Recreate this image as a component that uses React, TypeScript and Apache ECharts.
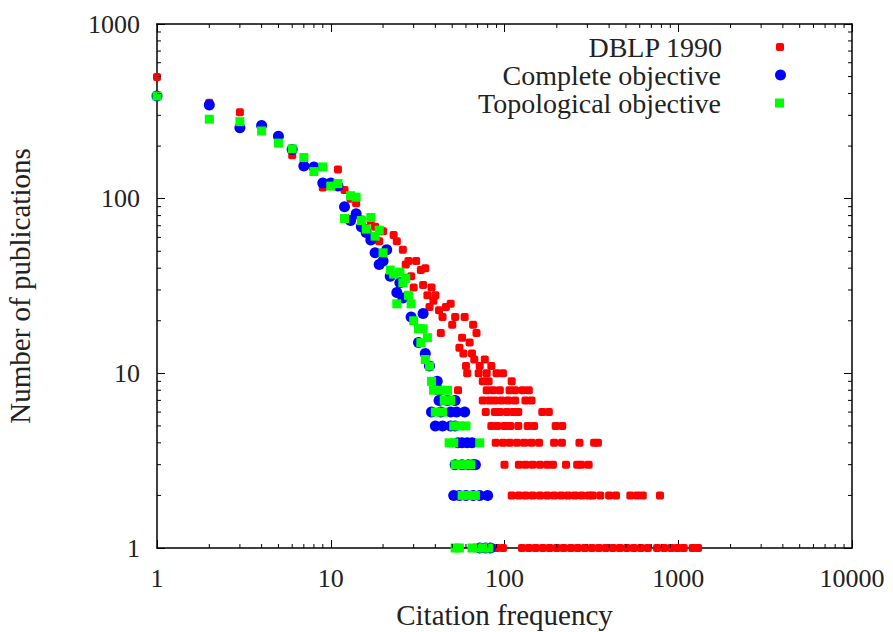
import { useEffect, useRef } from "react";
import * as echarts from "echarts";

// ---- data (citation frequency, number of publications) ----
const dblpTop: [number, number][] = [
  [1, 498], [2, 354], [3, 312], [4, 260], [5, 225], [6, 177], [7, 158], [8, 150], [9, 116], [10, 118],
  [11, 147], [12, 112], [13, 100], [14, 94], [15, 76], [16, 68], [17, 75], [18, 69], [19, 57], [20, 65],
  [23, 62], [24, 57], [26, 51], [27, 42], [28, 44], [29, 36], [30, 31], [31, 44], [33, 39], [34, 32],
  [35, 40], [36, 28], [37, 24], [38, 31], [39, 26], [40, 28], [42, 23], [43, 17], [44, 21], [46, 24],
  [49, 25], [50, 19], [52, 21], [55, 14], [57, 16], [58, 13], [59, 21], [60, 11], [63, 15], [65, 13],
  [66, 19], [67, 12], [69, 17], [72, 11], [77, 12], [84, 11],
];
const dblpMid: [number, number][] = [
  [61, 10], [71, 10], [79, 10], [90, 10], [98, 10],
  [75, 9], [81, 9], [110, 9],
  [54, 8], [79, 8], [86, 8], [94, 8], [107, 8], [115, 8], [127, 8], [138, 8],
  [75, 7], [82, 7], [88, 7], [96, 7], [105, 7], [115, 7], [132, 7], [143, 7],
  [78, 6], [88, 6], [94, 6], [103, 6], [112, 6], [120, 6], [165, 6], [180, 6],
  [84, 5], [91, 5], [100, 5], [108, 5], [120, 5], [136, 5], [148, 5], [197, 5], [215, 5],
];
const dblpLow: [number, number][] = [
  [89, 4], [98, 4], [107, 4], [118, 4], [130, 4], [143, 4], [158, 4], [193, 4], [214, 4], [270, 4], [328, 4], [345, 4],
  [100, 3], [121, 3], [132, 3], [145, 3], [160, 3], [176, 3], [190, 3], [226, 3], [262, 3], [276, 3], [305, 3],
  [110, 2], [121, 2], [132, 2], [145, 2], [160, 2], [176, 2], [193, 2], [212, 2], [232, 2], [254, 2], [278, 2],
  [305, 2], [322, 2], [356, 2], [400, 2], [438, 2], [530, 2], [580, 2], [625, 2], [785, 2],
  [90, 1], [98, 1], [126, 1], [138, 1], [151, 1], [166, 1], [182, 1], [200, 1], [219, 1], [241, 1], [264, 1],
  [290, 1], [318, 1], [349, 1], [383, 1], [420, 1], [461, 1], [506, 1], [555, 1], [609, 1], [668, 1],
  [755, 1], [830, 1], [910, 1], [990, 1], [1075, 1], [1210, 1], [1300, 1],
];

const completeData: [number, number][] = [
  [1, 387], [2, 344], [3, 255], [4, 262], [5, 228], [6, 191], [7, 154], [8, 152], [9, 123], [10, 123],
  [11, 118], [12, 90], [13, 75], [14, 82], [15, 69], [16, 64], [17, 58], [18, 49], [19, 42], [20, 44],
  [21, 51], [22, 36], [24, 29], [25, 33], [26, 27], [29, 21], [32, 15], [34, 22], [35, 13], [37, 11],
  [41, 9], [42, 8],
  [42, 7], [47, 7], [52, 7],
  [38, 6], [43, 6], [49, 6], [53, 6], [59, 6],
  [40, 5], [44, 5], [49, 5], [52, 5],
  [54, 4], [57, 4], [61, 4], [65, 4],
  [52, 3], [57, 3], [62, 3], [66, 3], [68, 3],
  [51, 2], [55, 2], [60, 2], [66, 2], [72, 2], [80, 2],
  [72, 1], [78, 1], [83, 1],
];

const topologicalData: [number, number][] = [
  [1, 387], [2, 285], [3, 276], [4, 244], [5, 208], [6, 193], [7, 172], [8, 143], [9, 152], [10, 118],
  [11, 122], [12, 77], [13, 104], [14, 102], [15, 75], [16, 67], [17, 78], [18, 61], [19, 66], [20, 49],
  [22, 39], [23, 37], [24, 25], [25, 38], [26, 33], [27, 35], [28, 28], [29, 25], [30, 20], [32, 18],
  [33, 15], [34, 18], [35, 12], [36, 16], [37, 11],
  [38, 9], [39, 8], [43, 8], [47, 8], [45, 7], [49, 7], [40, 6], [44, 6],
  [51, 5], [55, 5], [60, 5], [48, 4], [51, 4], [72, 4],
  [52, 3], [56, 3], [60, 3], [64, 3], [57, 2], [62, 2], [68, 2],
  [52, 1], [55, 1], [65, 1], [70, 1], [76, 1], [81, 1],
];

const seriesNames = ["DBLP 1990", "Complete objective", "Topological objective"];
const xMinorTicks = [
  2, 3, 4, 5, 6, 7, 8, 9, 20, 30, 40, 50, 60, 70, 80, 90, 200, 300, 400, 500, 600, 700, 800, 900,
  2000, 3000, 4000, 5000, 6000, 7000, 8000, 9000,
];
const yMinorTicks = [2, 3, 4, 5, 6, 7, 8, 9, 20, 30, 40, 50, 60, 70, 80, 90, 200, 300, 400, 500, 600, 700, 800, 900];
const X_MIN = 1;
const X_MAX = 10000;
const Y_MIN = 1;
const Y_MAX = 1000;

const FONT = "'Liberation Serif', 'Times New Roman', serif";
const TEXT_COLOR = "#222";

export default function App() {
  const ref = useRef<HTMLDivElement>(null);

  useEffect(() => {
    const chart = echarts.init(ref.current!, null, { renderer: "svg" });

    const axisBase = {
      type: "log" as const,
      logBase: 10,
      axisLine: { show: true, onZero: false, lineStyle: { color: "#000", width: 1.5 } },
      axisTick: { show: true, inside: true, length: 8, lineStyle: { color: "#000", width: 1 } },
      splitLine: { show: false },
      minorTick: { show: false },
    };

    const legendBase = {
      orient: "vertical" as const,
      align: "right" as const,
      padding: 0,
      selectedMode: false,
      textStyle: {
        fontFamily: FONT,
        fontSize: 28,
        color: TEXT_COLOR,
        lineHeight: 26,
        padding: [0, 49, 0, 0],
      },
    };

    const minorTickStyle = { stroke: "#000", lineWidth: 1 };

    chart.setOption({
      animation: false,
      backgroundColor: "#fff",
      grid: { left: 157, top: 24, right: 41, bottom: 84, containLabel: false, outerBoundsMode: "none" },
      legend: [
        { ...legendBase, data: [seriesNames[0]], right: 109, top: 33, itemWidth: 8, itemHeight: 8 },
        { ...legendBase, data: [seriesNames[1]], right: 107, top: 61, itemWidth: 11, itemHeight: 11 },
        { ...legendBase, data: [seriesNames[2]], right: 109, top: 89, itemWidth: 9, itemHeight: 9 },
      ],
      xAxis: [
        {
          ...axisBase,
          position: "bottom",
          min: X_MIN,
          max: X_MAX,
          axisLabel: {
            fontFamily: FONT,
            fontSize: 26,
            color: TEXT_COLOR,
            margin: 17,
            formatter: (v: number) => String(Math.round(v)),
          },
          name: "Citation frequency",
          nameLocation: "middle",
          nameGap: 52,
          nameTextStyle: { fontFamily: FONT, fontSize: 29, color: TEXT_COLOR, lineHeight: 30 },
        },
        {
          ...axisBase,
          position: "top",
          min: X_MIN,
          max: X_MAX,
          axisLabel: { show: false },
        },
      ],
      yAxis: [
        {
          ...axisBase,
          position: "left",
          min: Y_MIN,
          max: Y_MAX,
          axisLabel: {
            fontFamily: FONT,
            fontSize: 26,
            color: TEXT_COLOR,
            margin: 17,
            formatter: (v: number) => String(Math.round(v)),
          },
          name: "Number of publications",
          nameLocation: "middle",
          nameGap: 123,
          nameRotate: 90,
          nameTextStyle: { fontFamily: FONT, fontSize: 29, color: TEXT_COLOR },
        },
        {
          ...axisBase,
          position: "right",
          min: Y_MIN,
          max: Y_MAX,
          axisLabel: { show: false },
        },
      ],
      series: [
        {
          name: seriesNames[0],
          type: "scatter",
          data: [...dblpTop, ...dblpMid, ...dblpLow],
          symbol: "roundRect",
          symbolSize: 8,
          itemStyle: { color: "#ff0000", opacity: 1 },
          clip: false,
          z: 2,
        },
        {
          name: seriesNames[1],
          type: "scatter",
          data: completeData,
          symbol: "circle",
          symbolSize: 11,
          itemStyle: { color: "#0000ff", opacity: 1 },
          clip: false,
          z: 3,
        },
        {
          name: seriesNames[2],
          type: "scatter",
          data: topologicalData,
          symbol: "rect",
          symbolSize: 9,
          itemStyle: { color: "#00ff00", opacity: 1 },
          clip: false,
          z: 4,
        },
        {
          name: "xMinor",
          type: "custom",
          silent: true,
          clip: false,
          z: 5,
          data: xMinorTicks.map((v) => [v, Y_MIN]),
          renderItem: (_params: any, api: any) => {
            const v = api.value(0);
            const b = api.coord([v, Y_MIN]);
            const t = api.coord([v, Y_MAX]);
            return {
              type: "group",
              children: [
                { type: "line", shape: { x1: b[0], y1: b[1], x2: b[0], y2: b[1] - 4 }, style: minorTickStyle },
                { type: "line", shape: { x1: t[0], y1: t[1], x2: t[0], y2: t[1] + 4 }, style: minorTickStyle },
              ],
            };
          },
        },
        {
          name: "yMinor",
          type: "custom",
          silent: true,
          clip: false,
          z: 5,
          data: yMinorTicks.map((v) => [X_MIN, v]),
          renderItem: (_params: any, api: any) => {
            const v = api.value(1);
            const l = api.coord([X_MIN, v]);
            const r = api.coord([X_MAX, v]);
            return {
              type: "group",
              children: [
                { type: "line", shape: { x1: l[0], y1: l[1], x2: l[0] + 4, y2: l[1] }, style: minorTickStyle },
                { type: "line", shape: { x1: r[0], y1: r[1], x2: r[0] - 4, y2: r[1] }, style: minorTickStyle },
              ],
            };
          },
        },
      ],
    });

    return () => chart.dispose();
  }, []);

  return (
    <div
      ref={ref}
      style={{ position: "fixed", left: 0, top: 0, width: 893, height: 632, background: "#fff" }}
    />
  );
}
